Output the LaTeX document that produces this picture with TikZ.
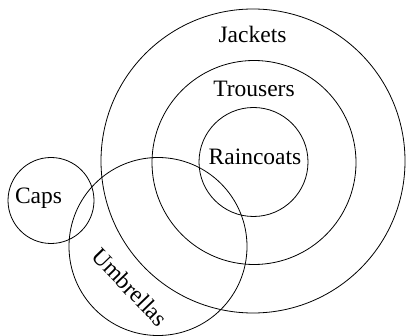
\documentclass[tikz,border=0pt]{standalone}
\usepackage{fontspec}
\setmainfont{Liberation Serif}
\usetikzlibrary{positioning}

\begin{document}
\begin{tikzpicture}[x=1pt,y=-1pt,
  set/.style={draw,circle,line width=0.8pt,inner sep=0pt,minimum size=#1},
  tag/.style={font=\fontsize{23.5}{28}\selectfont,inner sep=0pt,anchor=base}
]
\useasboundingbox (0,0) rectangle (406,336);
\node[set=304pt] (jackets) at (253,161) {};
\node[set=204pt] (trousers) at (254,162.5) {};
\node[set=109pt] (raincoats) at (253.5,162) {};
\node[set=178pt] (umbrellas) at (158,246.5) {};
\node[set=86pt] (caps) at (51,200.5) {};
\node[tag] (jacketsname) at (252.5,43) {Jackets};
\node[tag] (trousersname) at (254,97) {Trousers};
\node[tag] (raincoatsname) at (255,165) {Raincoats};
\node[tag] (capsname) at (38.5,204) {Caps};
\node[tag,anchor=center,rotate=-46] (umbrellasname) at (130,287) {Umbrellas};
\end{tikzpicture}
\end{document}
